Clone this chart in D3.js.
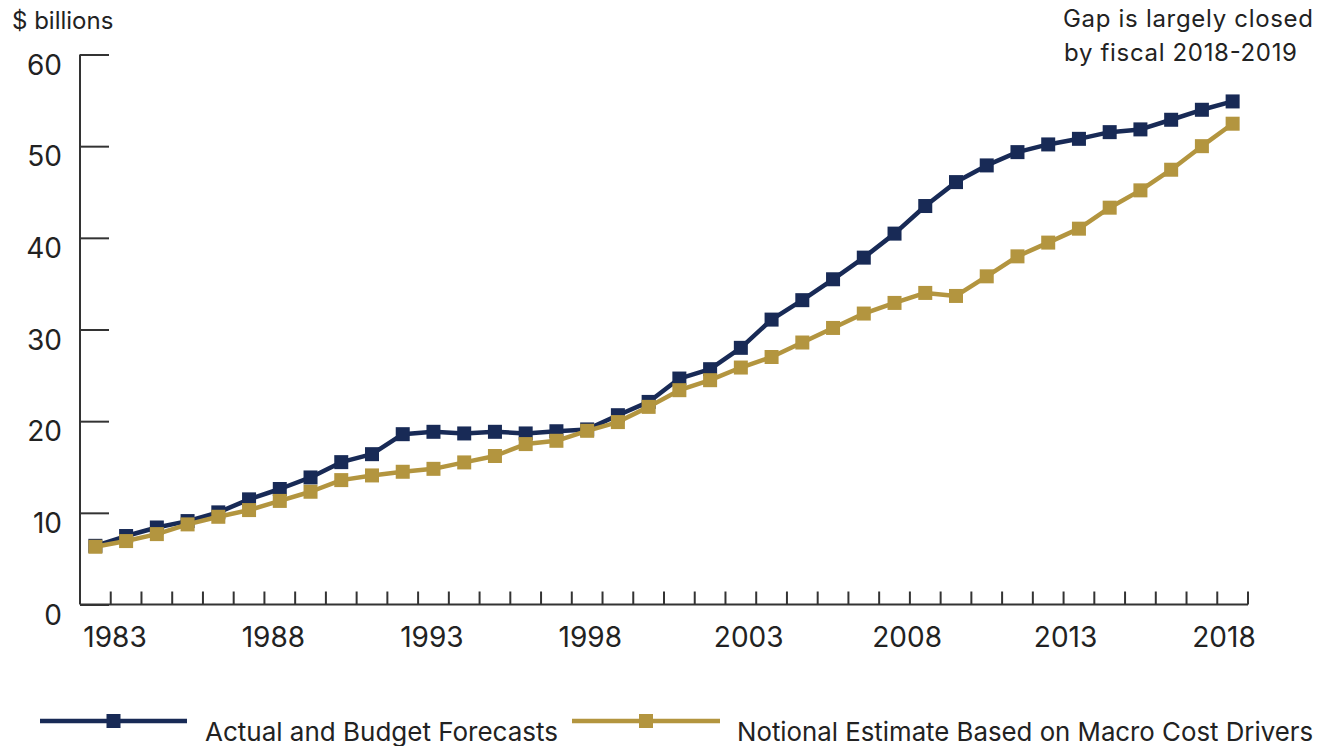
<!DOCTYPE html>
<html><head><meta charset="utf-8">
<script src="https://cdn.jsdelivr.net/npm/d3@7"></script>
<style>body{margin:0;background:#fff}svg{display:block}text{font-family:Inter,"Noto Sans",sans-serif;fill:#222;font-weight:400}</style>
</head><body><svg id="c" width="1330" height="746"></svg>
<script>
const years = d3.range(1983, 2021);
const actual = [6.4,7.47,8.4,9.1,10.05,11.47,12.6,13.86,15.53,16.4,18.58,18.84,18.66,18.84,18.66,18.9,19.1,20.65,22.1,24.65,25.67,28.0,31.08,33.2,35.48,37.84,40.46,43.47,46.08,47.9,49.35,50.19,50.8,51.53,51.83,52.88,53.97,54.88];
const notional = [6.3,6.92,7.68,8.74,9.57,10.3,11.3,12.3,13.57,14.08,14.48,14.8,15.5,16.2,17.5,17.86,18.95,19.9,21.56,23.38,24.47,25.85,27.0,28.58,30.17,31.74,32.9,33.99,33.66,35.8,37.98,39.48,41.0,43.29,45.18,47.43,50.0,52.45];
const yTicks = [0,10,20,30,40,50,60];
const xLabels = [1983,1988,1993,1998,2003,2008,2013,2018];
const seriesNames = ["Actual and Budget Forecasts","Notional Estimate Based on Macro Cost Drivers"];
const colors = ["#182a56","#b3953f"];

const svg = d3.select("#c");
const L = 80, R = 1248, T = 54.5, B = 604.5;
const x = d3.scaleBand().domain(years).range([L, R]);
const xc = d => x(d) + x.bandwidth()/2;
const y = d3.scaleLinear().domain([0,60]).range([B, T]);
const xl = d3.scaleLinear().domain([1983,2018]).range([115,1224]);

// y axis
const ya = svg.append("g").attr("transform",`translate(${L},0)`)
  .call(d3.axisRight(y).tickValues(yTicks).tickSize(29).tickFormat(""));
ya.selectAll("path,line").attr("stroke","#333").attr("stroke-width",2);
ya.select(".domain").attr("d",`M0,${T}V${B}`);
svg.append("g").selectAll("text").data(yTicks).join("text")
  .attr("x",62).attr("y",d=>y(d)+20).attr("text-anchor","end")
  .attr("font-size",28).text(d=>d);

// x axis
const xa = svg.append("g").attr("transform",`translate(0,${B})`)
  .call(d3.axisTop(x).tickValues([]).tickSizeOuter(0));
xa.select(".domain").attr("stroke","#333").attr("stroke-width",2).attr("d",`M${L},0H${R}`);
svg.append("g").selectAll("line").data(years).join("line")
  .attr("x1",d=>x(d)+x.bandwidth()).attr("x2",d=>x(d)+x.bandwidth())
  .attr("y1",B).attr("y2",B-13).attr("stroke","#333").attr("stroke-width",2);
svg.append("g").selectAll("text").data(xLabels).join("text")
  .attr("x",d=>xl(d)).attr("y",647).attr("text-anchor","middle")
  .attr("font-size",28).text(d=>d);

// series
const line = d3.line().x((d,i)=>xc(years[i])).y(d=>y(d));
[actual, notional].forEach((s,k)=>{
  svg.append("path").datum(s).attr("d",line).attr("fill","none")
    .attr("stroke",colors[k]).attr("stroke-width",4.5).attr("stroke-linejoin","round");
  svg.append("g").selectAll("rect").data(s).join("rect")
    .attr("x",(d,i)=>xc(years[i])-7).attr("y",d=>y(d)-7)
    .attr("width",14).attr("height",14).attr("fill",colors[k]);
});

// texts
svg.append("text").attr("x",12).attr("y",29).attr("font-size",24).text("$ billions");
svg.append("text").attr("x",1063).attr("y",27).attr("font-size",24).attr("textLength",250).text("Gap is largely closed");
svg.append("text").attr("x",1064).attr("y",61).attr("font-size",24).attr("textLength",233).text("by fiscal 2018-2019");

// legend
const leg = [{x1:40,x2:187,tx:205,tw:353},{x1:572,x2:720,tx:737,tw:576}];
leg.forEach((l,k)=>{
  svg.append("line").attr("x1",l.x1).attr("x2",l.x2).attr("y1",721).attr("y2",721)
    .attr("stroke",colors[k]).attr("stroke-width",4.5);
  svg.append("rect").attr("x",(l.x1+l.x2)/2-7).attr("y",714).attr("width",14).attr("height",14).attr("fill",colors[k]);
  svg.append("text").attr("x",l.tx).attr("y",741).attr("font-size",26)
    .attr("textLength",l.tw).attr("lengthAdjust","spacingAndGlyphs").text(seriesNames[k]);
});
</script></body></html>
